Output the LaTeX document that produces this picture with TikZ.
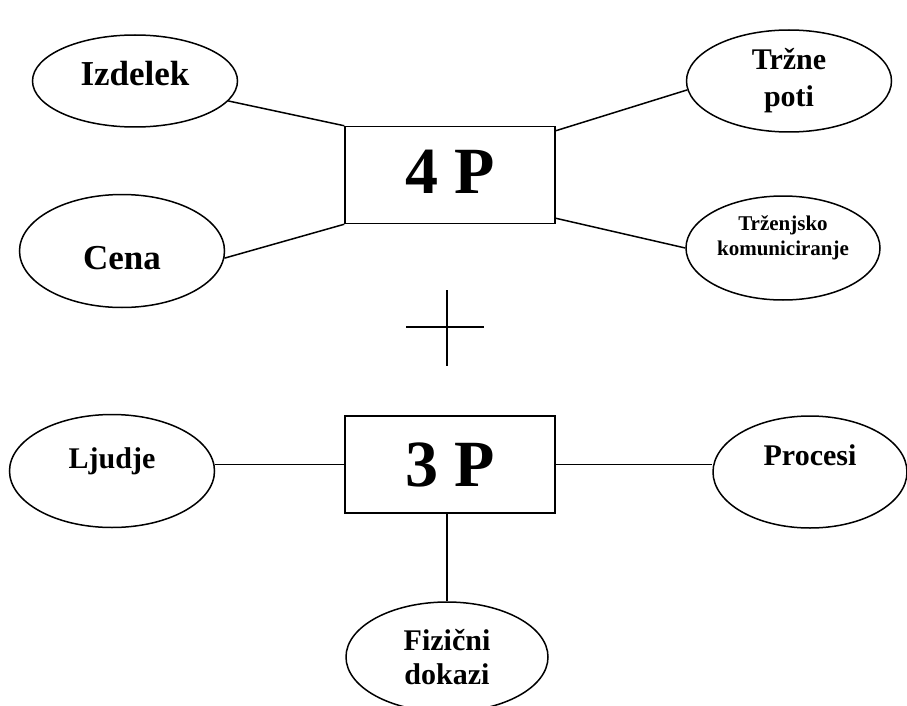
\documentclass[tikz,border=0pt]{standalone}
\usepackage{fontspec}
\setmainfont{Liberation Serif}
\usetikzlibrary{shapes.geometric}

\begin{document}
\begin{tikzpicture}[x=1pt, y=-1pt, line width=1.5pt,
  oval/.style = {draw, ellipse, inner sep=0pt, align=center},
  box/.style = {draw, rectangle, inner sep=0pt, minimum width=210pt, minimum height=97pt},
  huge/.style = {font=\fontsize{66}{70}\selectfont\bfseries},
  large/.style = {font=\fontsize{35}{38}\selectfont\bfseries},
  mid/.style = {font=\fontsize{30}{34}\selectfont\bfseries},
  small/.style = {font=\fontsize{21}{25}\selectfont\bfseries}]
  \useasboundingbox (0,0) rectangle (907,706);

  % 4 P
  \node[box, huge, text depth=7pt] (p4) at (450,175) {4 P};
  \node[oval, large, minimum width=205pt, minimum height=92pt, text depth=16pt] (izdelek) at (135,81) {Izdelek};
  \node[oval, large, minimum width=205pt, minimum height=113pt, text height=37pt] (cena) at (122,251) {Cena};
  \node[oval, mid, minimum width=205pt, minimum height=102pt, font=\fontsize{30}{37}\selectfont\bfseries] (poti) at (789,81) {Tržne\\poti};
  \node[oval, small, minimum width=194pt, minimum height=104pt, text depth=24pt] (kom) at (783,248) {Trženjsko\\komuniciranje};

  \draw (izdelek) -- (p4.north west);
  \draw (cena.-4) -- (p4.south west);
  \draw (poti.185) -- ([yshift=-5pt]p4.north east);
  \draw (kom.west) -- ([yshift=6pt]p4.south east);

  % plus
  \draw (406,327) -- (484,327);
  \draw (447,290) -- (447,366);

  % 3 P
  \node[box, huge] (p3) at (450,464.5) {3 P};
  \node[oval, mid, minimum width=205pt, minimum height=113pt, text depth=26pt] (ljudje) at (112,471) {Ljudje};
  \node[oval, mid, minimum width=194pt, minimum height=112pt, text depth=34pt] (procesi) at (810,472) {Procesi};
  \node[oval, mid, minimum width=202pt, minimum height=110pt] (dokazi) at (447,657) {Fizični\\dokazi};

  \draw (p3.west) -- (p3.west -| ljudje.east);
  \draw (p3.east) -- (p3.east -| procesi.west);
  \draw (dokazi.north) -- (dokazi.north |- p3.south);
\end{tikzpicture}
\end{document}
